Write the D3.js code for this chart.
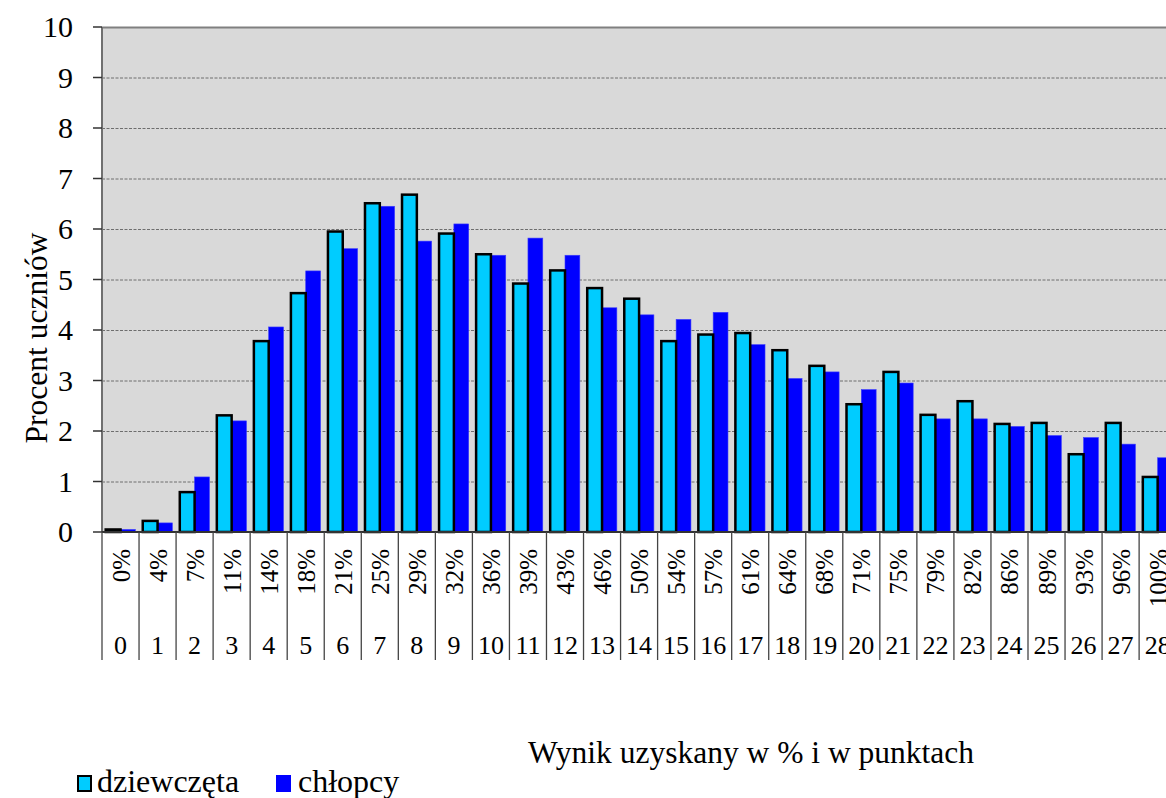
<!DOCTYPE html>
<html><head><meta charset="utf-8">
<script src="https://cdn.jsdelivr.net/npm/d3@7"></script>
<style>body{margin:0;background:#fff}svg text{font-family:"Liberation Serif","Times New Roman",serif;fill:#000}</style>
</head><body>
<svg id="c" width="1166" height="798" font-family="Liberation Serif, Times New Roman, serif"></svg>
<script>
const points = d3.range(0,29).map(String);
const percents = ["0%","4%","7%","11%","14%","18%","21%","25%","29%","32%","36%","39%","43%","46%","50%","54%","57%","61%","64%","68%","71%","75%","79%","82%","86%","89%","93%","96%","100%"];
const girls = [0.05,0.22,0.79,2.31,3.78,4.73,5.95,6.51,6.68,5.91,5.50,4.92,5.18,4.83,4.62,3.78,3.91,3.94,3.60,3.29,2.53,3.17,2.32,2.59,2.14,2.16,1.54,2.16,1.09];
const boys  = [0.05,0.18,1.09,2.20,4.06,5.17,5.61,6.45,5.76,6.10,5.48,5.82,5.48,4.44,4.30,4.21,4.35,3.71,3.04,3.17,2.82,2.95,2.24,2.24,2.09,1.91,1.87,1.74,1.47];
const yTicks = d3.range(0,11);
const seriesNames = ["dziewczęta","chłopcy"];
const colors = ["#00CCFF","#0000FF"];

const svg = d3.select("#c");
const L=102, T=27, B=532, band=37.04;
const R = L + band*points.length;
const x = d3.scaleBand().domain(points).range([L,R]).paddingInner(0).paddingOuter(0);
const y = d3.scaleLinear().domain([0,10]).range([B,T]);

svg.append("rect").attr("x",L).attr("y",T).attr("width",R-L).attr("height",B-T).attr("fill","#D9D9D9");
// grid
svg.append("g").selectAll("line").data(yTicks.filter(d=>d>0&&d<10)).join("line")
  .attr("x1",L).attr("x2",R).attr("y1",d=>y(d)+0.5).attr("y2",d=>y(d)+0.5)
  .attr("stroke","#6e6e6e").attr("stroke-width",1).attr("stroke-dasharray","3,1.5");
svg.append("line").attr("x1",L).attr("x2",R).attr("y1",T+0.5).attr("y2",T+0.5).attr("stroke","#808080").attr("stroke-width",2);

const bw = x.bandwidth();
const g0 = bw*0.1, w = bw*0.4;
// boys
svg.append("g").selectAll("rect").data(boys).join("rect")
  .attr("x",(d,i)=>x(points[i])+g0+w).attr("y",d=>y(d)).attr("width",w).attr("height",d=>B-y(d))
  .attr("fill",colors[1]).attr("stroke","#3b3bff").attr("stroke-width",0.6);
// girls
svg.append("g").selectAll("rect").data(girls).join("rect")
  .attr("x",(d,i)=>x(points[i])+g0).attr("y",d=>y(d)).attr("width",w).attr("height",d=>B-y(d))
  .attr("fill",colors[0]).attr("stroke","#000").attr("stroke-width",2.5);

// y axis
svg.append("line").attr("x1",L).attr("x2",L).attr("y1",T).attr("y2",B).attr("stroke","#707070").attr("stroke-width",2);
svg.append("g").selectAll("line").data(yTicks).join("line")
  .attr("x1",L-9).attr("x2",L).attr("y1",d=>y(d)).attr("y2",d=>y(d)).attr("stroke","#333").attr("stroke-width",1.5);
svg.append("g").selectAll("text").data(yTicks).join("text")
  .attr("x",73).attr("y",d=>y(d)+10).attr("text-anchor","end").attr("font-size",30).text(d=>d);
svg.append("text").attr("transform","translate(47,338) rotate(-90)").attr("text-anchor","middle").attr("font-size",31.5).text("Procent uczniów");

// x axis
svg.append("line").attr("x1",L).attr("x2",R).attr("y1",B).attr("y2",B).attr("stroke","#333").attr("stroke-width",2);
svg.append("g").selectAll("line").data(d3.range(0,points.length+1)).join("line")
  .attr("x1",i=>L+i*bw).attr("x2",i=>L+i*bw).attr("y1",B).attr("y2",660).attr("stroke","#444").attr("stroke-width",1.3);
svg.append("g").selectAll("text").data(percents).join("text")
  .attr("transform",(d,i)=>`translate(${x(points[i])+bw/2+9},549) rotate(-90)`)
  .attr("text-anchor","end").attr("font-size",25).text(d=>d);
svg.append("g").selectAll("text").data(points).join("text")
  .attr("x",d=>x(d)+bw/2).attr("y",654).attr("text-anchor","middle").attr("font-size",26).text(d=>d);

svg.append("text").attr("x",751).attr("y",763).attr("text-anchor","middle").attr("font-size",31.5).text("Wynik uzyskany w % i w punktach");

// legend
const lg = svg.append("g");
lg.append("rect").attr("x",78).attr("y",776).attr("width",13).attr("height",15).attr("fill",colors[0]).attr("stroke","#000").attr("stroke-width",2);
lg.append("text").attr("x",97).attr("y",792).attr("font-size",32).text(seriesNames[0]);
lg.append("rect").attr("x",276).attr("y",775).attr("width",15).attr("height",17).attr("fill",colors[1]);
lg.append("text").attr("x",298).attr("y",792).attr("font-size",32).text(seriesNames[1]);
</script>
</body></html>
